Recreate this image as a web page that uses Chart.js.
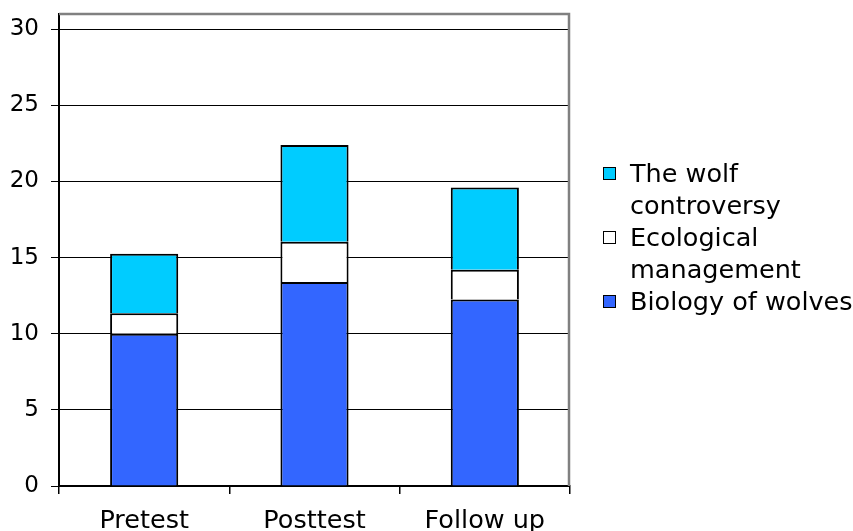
<!DOCTYPE html>
<html>
<head>
<meta charset="utf-8">
<script src="https://cdn.jsdelivr.net/npm/chart.js@4.4.0/dist/chart.umd.min.js"></script>
<style>
  body { margin: 0; background: #fff; }
  .wrap { position: relative; width: 853px; height: 531px; }
  #legend { position: absolute; left: 603px; top: 157px; font-family: 'DejaVu Sans', sans-serif; font-size: 25.5px; line-height: 32px; color: #000; }
  #legend ul { list-style: none; margin: 0; padding: 0; }
  #legend li { display: flex; align-items: flex-start; }
  #legend .box { width: 11px; height: 11px; border: 1px solid #000; margin-top: 10px; margin-right: 14px; flex: none; }
  #legend .txt { width: 235px; }
</style>
</head>
<body>
<div class="wrap">
  <canvas id="wolfChart" width="853" height="531"></canvas>
  <div id="legend"></div>
</div>
<script>
const categories = ['Pretest', 'Posttest', 'Follow up'];
const biology = [10.0, 13.4, 12.25];
const ecological = [1.35, 2.65, 1.95];
const controversy = [3.9, 6.35, 5.4];
const yTicks = [0, 5, 10, 15, 20, 25, 30];

Chart.defaults.font.family = "'DejaVu Sans', sans-serif";
Chart.defaults.font.size = 25.5;
Chart.defaults.color = '#000';

// grey frame on the top and right of the plot area
const plotFrame = {
  id: 'plotFrame',
  beforeDatasetsDraw(chart) {
    const { ctx, chartArea: { left, top, right, bottom } } = chart;
    ctx.save();
    ctx.strokeStyle = '#808080';
    ctx.lineWidth = 2.5;
    ctx.beginPath();
    ctx.moveTo(left, top);
    ctx.lineTo(right - 1, top);
    ctx.lineTo(right - 1, bottom);
    ctx.stroke();
    ctx.restore();
  }
};

// legend as html so long labels wrap, top series listed first
const htmlLegend = {
  id: 'htmlLegend',
  afterUpdate(chart) {
    const container = document.getElementById('legend');
    const items = chart.options.plugins.legend.labels.generateLabels(chart).reverse();
    const ul = document.createElement('ul');
    items.forEach(item => {
      const li = document.createElement('li');
      const box = document.createElement('span');
      box.className = 'box';
      box.style.background = item.fillStyle;
      const txt = document.createElement('span');
      txt.className = 'txt';
      txt.textContent = item.text;
      li.appendChild(box);
      li.appendChild(txt);
      ul.appendChild(li);
    });
    container.innerHTML = '';
    container.appendChild(ul);
  }
};

// no bottom edge on segments so stacked joins stay one line thick
const barStyle = {
  borderColor: '#000',
  borderWidth: { top: 2, right: 2, bottom: 0, left: 2 },
  borderSkipped: false,
  barPercentage: 0.4,
  categoryPercentage: 1
};

new Chart(document.getElementById('wolfChart'), {
  type: 'bar',
  data: {
    labels: categories,
    datasets: [
      { label: 'Biology of wolves', data: biology, backgroundColor: '#3366FF', ...barStyle },
      { label: 'Ecological management', data: ecological, backgroundColor: '#FFFFFF', ...barStyle },
      { label: 'The wolf controversy', data: controversy, backgroundColor: '#00CCFF', ...barStyle }
    ]
  },
  options: {
    responsive: false,
    animation: false,
    layout: { padding: { left: 0, top: 0, right: 283, bottom: 0 } },
    plugins: {
      legend: { display: false },
      tooltip: { enabled: false }
    },
    scales: {
      x: {
        stacked: true,
        grid: { offset: true, drawOnChartArea: false, color: '#000', lineWidth: 1.5, tickLength: 8 },
        border: { color: '#000', width: 2 },
        ticks: { padding: 12 },
        afterFit: scale => { scale.height = 45; }
      },
      y: {
        stacked: true,
        min: 0,
        max: 31,
        ticks: { padding: 12, font: { size: 23 } },
        afterBuildTicks: scale => {
          scale.ticks = yTicks.map(v => ({ value: v }));
        },
        afterFit: scale => {
          scale.width = 59;
          scale.paddingTop = 14;
          scale.paddingBottom = 0;
        },
        grid: { color: '#000', lineWidth: 1, tickLength: 8 },
        border: { color: '#000', width: 2 }
      }
    }
  },
  plugins: [plotFrame, htmlLegend]
});
</script>
</body>
</html>
